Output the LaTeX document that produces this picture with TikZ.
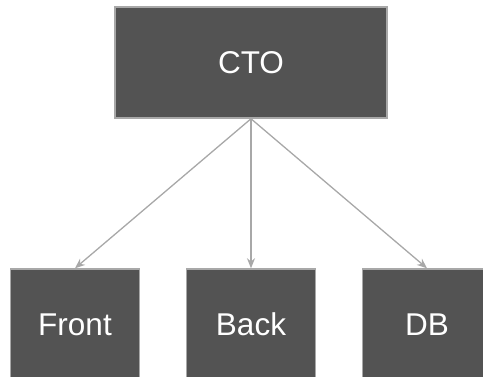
\documentclass[tikz,border=0pt]{standalone}
\usepackage{fontspec}
\setmainfont{Liberation Sans}
\usetikzlibrary{arrows.meta}
\definecolor{boxfill}{HTML}{535353}
\definecolor{boxline}{HTML}{A8A8A8}
\begin{document}
\begin{tikzpicture}[x=1pt, y=-1pt, node distance=176pt,
            main/.style = {draw=boxline, line width=1.5pt, fill=boxfill, text=white,
                           minimum width=129pt, minimum height=111pt, inner sep=0pt,
                           font=\fontsize{31.5}{36}\selectfont},
            link/.style = {draw=boxline, line width=1.3pt, -{Stealth[length=10pt,width=8pt]}}]
        \useasboundingbox (0,0) rectangle (483,376);
        \clip (0,0) rectangle (483,376);

           \node[main, minimum width=272pt] (cto) at (251,62.5) {CTO};
           \node[main] (back) [below of=cto, node distance=262pt] {Back};
           \node[main] (front) [left of=back] {Front};
           \node[main] (db) [right of=back] {DB};

            % frecce dal CTO
            \draw[link] (cto.south) -- (front.north);
            \draw[link] (cto.south) -- (back.north);
            \draw[link] (cto.south) -- (db.north);
        \end{tikzpicture}
\end{document}
